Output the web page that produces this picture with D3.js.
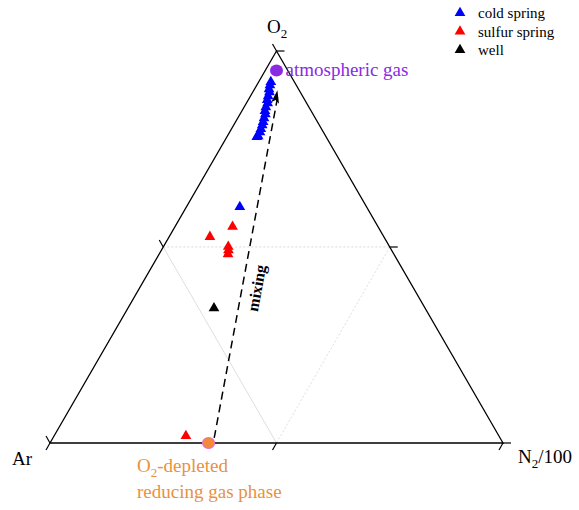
<!DOCTYPE html>
<html>
<head>
<meta charset="utf-8">
<script src="https://cdn.jsdelivr.net/npm/d3@7"></script>
<style>
  html, body { margin: 0; padding: 0; background: #fff; }
  svg { display: block; font-family: "Liberation Serif", "Times New Roman", serif; }
</style>
</head>
<body>
<svg id="chart" width="579" height="510"></svg>
<script>
// Ternary composition in percent: [O2, Ar, N2/100]
const coldSpring = [
  [92.1, 5.2, 2.7], [91.3, 5.8, 2.9], [90.3, 6.5, 3.2], [89.5, 6.8, 3.7],
  [88.5, 7.6, 3.9], [87.5, 8.3, 4.2], [86.7, 8.6, 4.7], [85.7, 9.5, 4.8],
  [84.7, 10.2, 5.1], [83.9, 10.5, 5.6], [82.9, 11.3, 5.8], [81.9, 12.0, 6.1],
  [81.1, 12.6, 6.3], [80.1, 13.4, 6.5], [79.3, 14.0, 6.7], [78.3, 14.9, 6.8],
  [78.1, 15.3, 6.6], [60.2, 28.0, 11.8]
];
const sulfurSpring = [
  [52.6, 38.4, 9.0], [55.2, 32.1, 12.7], [50.1, 35.6, 14.3],
  [49.2, 36.0, 14.8], [48.2, 36.6, 15.2], [1.8, 69.1, 29.1]
];
const well = [[34.4, 46.6, 19.0]];
const atmosphericGas = [95.0, 2.5, 2.5];
const reducingGas = [0.0, 65.0, 35.0];
const mixingLine = [[1.3, 63.1, 35.6], [90.0, 4.8, 5.2]];
const gridLevels = [50];
const tickLevels = [0, 50, 100];
const legendItems = ["cold spring", "sulfur spring", "well"];
const legendColors = ["#0000ff", "#ff0000", "#000000"];

const svg = d3.select("#chart");

// Cartesian layout of the triangle: Ar bottom-left, N2/100 bottom-right, O2 on top
const xScale = d3.scaleLinear().domain([0, 1]).range([50, 503]);
const yScale = d3.scaleLinear().domain([0, 1]).range([443, 51]);

function project(d) {
  const total = d[0] + d[1] + d[2];
  const o = d[0] / total, n = d[2] / total;
  return [xScale(n + o / 2), yScale(o)];
}

const cAr = project([0, 100, 0]);
const cN = project([0, 0, 100]);
const cO = project([100, 0, 0]);

// 50% grid lines
const grid = svg.append("g");
gridLevels.forEach(v => {
  const f = v;
  // O2 = 50
  let p1 = project([f, 100 - f, 0]), p2 = project([f, 0, 100 - f]);
  grid.append("line").attr("x1", p1[0]).attr("y1", p1[1]).attr("x2", p2[0]).attr("y2", p2[1])
    .attr("stroke", "#cfcfcf").attr("stroke-width", 0.8).attr("stroke-dasharray", "2,2");
  // Ar = 50
  p1 = project([100 - f, f, 0]); p2 = project([0, f, 100 - f]);
  grid.append("line").attr("x1", p1[0]).attr("y1", p1[1]).attr("x2", p2[0]).attr("y2", p2[1])
    .attr("stroke", "#d6d6d6").attr("stroke-width", 0.8);
  // N2/100 = 50
  p1 = project([100 - f, 0, f]); p2 = project([0, 100 - f, f]);
  grid.append("line").attr("x1", p1[0]).attr("y1", p1[1]).attr("x2", p2[0]).attr("y2", p2[1])
    .attr("stroke", "#d6d6d6").attr("stroke-width", 0.8).attr("stroke-dasharray", "2,2");
});

// Triangle frame
svg.append("path")
  .attr("d", d3.line()([cAr, cN, cO]) + "Z")
  .attr("fill", "none").attr("stroke", "#000").attr("stroke-width", 1.3);

// Axis ticks
const tickLen = 8;
const ticks = svg.append("g").attr("stroke", "#000").attr("stroke-width", 1.2);
tickLevels.forEach(v => {
  // bottom axis (Ar -> N2/100), ticks parallel to the left edge, outward
  let p = project([0, 100 - v, v]);
  ticks.append("line").attr("x1", p[0]).attr("y1", p[1])
    .attr("x2", p[0] - tickLen * 0.5).attr("y2", p[1] + tickLen * 0.866);
  // right axis (N2/100 -> O2), ticks horizontal outward
  p = project([v, 0, 100 - v]);
  ticks.append("line").attr("x1", p[0]).attr("y1", p[1])
    .attr("x2", p[0] + tickLen).attr("y2", p[1]);
  // left axis (O2 -> Ar), ticks parallel to the right edge, outward
  p = project([100 - v, v, 0]);
  ticks.append("line").attr("x1", p[0]).attr("y1", p[1])
    .attr("x2", p[0] - tickLen * 0.5).attr("y2", p[1] - tickLen * 0.866);
});

// Mixing line with arrowhead
const m0 = project(mixingLine[0]), m1 = project(mixingLine[1]);
svg.append("line")
  .attr("x1", m0[0]).attr("y1", m0[1]).attr("x2", m1[0]).attr("y2", m1[1] + 8)
  .attr("stroke", "#000").attr("stroke-width", 1.5).attr("stroke-dasharray", "8,5");
const ang = Math.atan2(m1[1] - m0[1], m1[0] - m0[0]) * 180 / Math.PI;
svg.append("path")
  .attr("d", "M0,0 L-13,-4 L-10,0 L-13,4 Z")
  .attr("transform", `translate(${m1[0]},${m1[1]}) rotate(${ang})`)
  .attr("fill", "#000");

const angText = ang;
svg.append("text")
  .attr("transform", `translate(262,289) rotate(${angText})`)
  .attr("text-anchor", "middle")
  .attr("font-size", 16).attr("font-weight", "bold")
  .text("mixing");

// Data markers
const tri = d3.symbol().type(d3.symbolTriangle).size(50);
function drawSeries(data, color) {
  svg.append("g").selectAll("path").data(data).join("path")
    .attr("d", tri)
    .attr("transform", d => { const p = project(d); return `translate(${p[0]},${p[1]})`; })
    .attr("fill", color);
}
drawSeries(coldSpring, legendColors[0]);
drawSeries(sulfurSpring, legendColors[1]);
drawSeries(well, legendColors[2]);

// End members
const pa = project(atmosphericGas);
svg.append("ellipse").attr("cx", pa[0]).attr("cy", pa[1]).attr("rx", 6.5).attr("ry", 6)
  .attr("fill", "#8a2be2");
svg.append("text").attr("x", pa[0] + 9).attr("y", pa[1] + 5)
  .attr("font-size", 19).attr("fill", "#8a2be2").text("atmospheric gas");

const pr = project(reducingGas);
svg.append("ellipse").attr("cx", pr[0]).attr("cy", pr[1]).attr("rx", 6).attr("ry", 5.5)
  .attr("fill", "#f28a3a").attr("stroke", "#e86fc8").attr("stroke-width", 1.2);
const rl = svg.append("text").attr("x", 137).attr("y", 472)
  .attr("font-size", 19).attr("fill", "#e8913f");
rl.append("tspan").text("O");
rl.append("tspan").attr("font-size", 13).attr("dy", 5).text("2");
rl.append("tspan").attr("dy", -5).text("-depleted");
svg.append("text").attr("x", 137).attr("y", 498)
  .attr("font-size", 19).attr("fill", "#e8913f").text("reducing gas phase");

// Vertex labels
const lo = svg.append("text").attr("x", 267).attr("y", 33).attr("font-size", 19);
lo.append("tspan").text("O");
lo.append("tspan").attr("font-size", 13).attr("dy", 5).text("2");
svg.append("text").attr("x", 12).attr("y", 465).attr("font-size", 19).text("Ar");
const ln = svg.append("text").attr("x", 518).attr("y", 463).attr("font-size", 19);
ln.append("tspan").text("N");
ln.append("tspan").attr("font-size", 13).attr("dy", 5).text("2");
ln.append("tspan").attr("dy", -5).text("/100");

// Legend
const legend = svg.append("g");
legendItems.forEach((name, i) => {
  const y = 13 + i * 18.5;
  legend.append("path").attr("d", tri).attr("transform", `translate(460,${y})`)
    .attr("fill", legendColors[i]);
  legend.append("text").attr("x", 478).attr("y", y + 5).attr("font-size", 15).text(name);
});
</script>
</body>
</html>
